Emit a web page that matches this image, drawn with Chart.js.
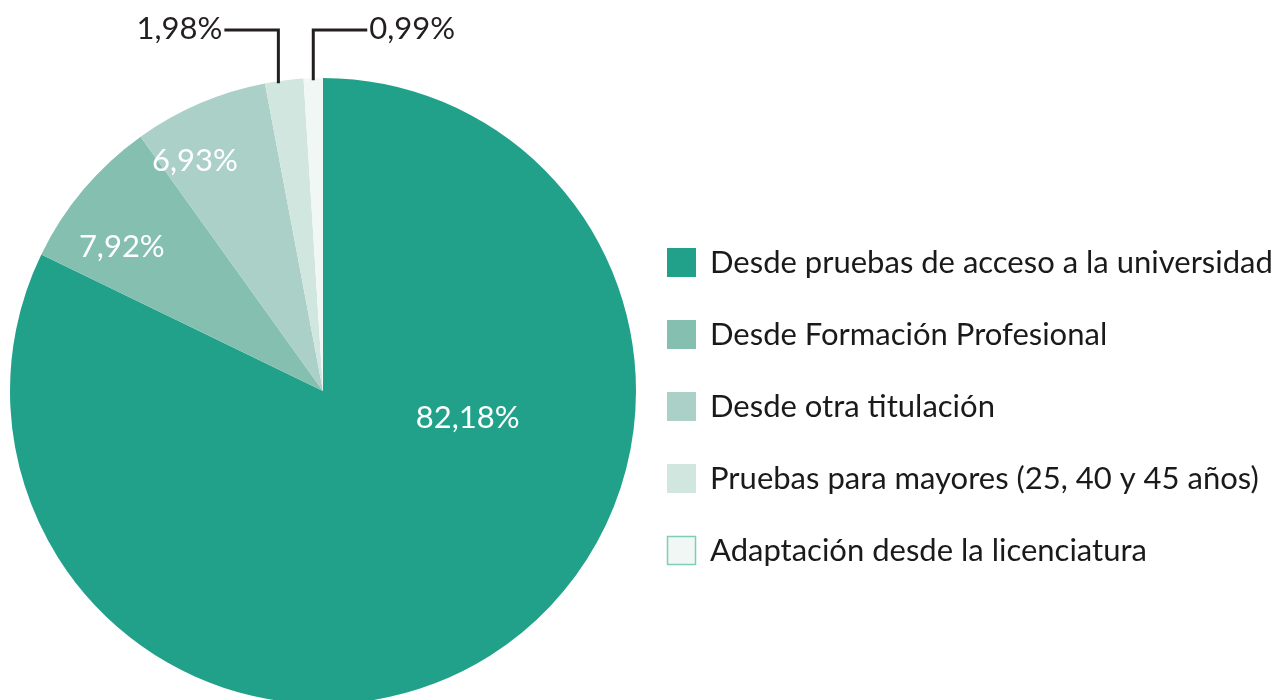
<!DOCTYPE html>
<html>
<head>
<meta charset="utf-8">
<script src="https://cdn.jsdelivr.net/npm/chart.js@4"></script>
<style>
  html, body { margin: 0; padding: 0; background: #fff; overflow: hidden; }
  #wrap { position: absolute; left: 0; top: 0; width: 1276px; height: 782px; }
</style>
</head>
<body>
<div id="wrap"><canvas id="accesoChart"></canvas></div>
<script>
const categories = [
    'Desde pruebas de acceso a la universidad',
    'Desde Formación Profesional',
    'Desde otra titulación',
    'Pruebas para mayores (25, 40 y 45 años)',
    'Adaptación desde la licenciatura'
];
const percentages = [82.18, 7.92, 6.93, 1.98, 0.99];
const colors = ['#22a18a', '#84bfb0', '#abd0c7', '#d2e6e0', '#f1f7f5'];

const FONT = '400 31px Lato, "Noto Sans", sans-serif';
const fmt = v => v.toFixed(2).replace('.', ',') + '%';

// etiquetas dentro (fracción del ángulo del sector, fracción del radio) o fuera con línea
const labelPlaces = [
    { inside: true, frac: 0.34, r: 0.47 },
    { inside: true, frac: 0.34, r: 0.79 },
    { inside: true, frac: 0.26, r: 0.84 },
    { inside: false, side: -1, frac: 0.35 },
    { inside: false, side: 1, frac: 0.5 }
];

const labelsPlugin = {
    id: 'pctLabels',
    afterDatasetsDraw(chart) {
        const ctx = chart.ctx;
        const arcs = chart.getDatasetMeta(0).data;
        ctx.save();
        ctx.font = FONT;
        arcs.forEach((arc, i) => {
            const p = labelPlaces[i];
            const a = arc.startAngle + (arc.endAngle - arc.startAngle) * p.frac;
            const text = fmt(percentages[i]);
            if (p.inside) {
                const r = arc.outerRadius * p.r;
                ctx.fillStyle = '#ffffff';
                ctx.textAlign = 'center';
                ctx.textBaseline = 'middle';
                ctx.fillText(text, arc.x + Math.cos(a) * r, arc.y + Math.sin(a) * r);
            } else {
                const ex = arc.x + Math.cos(a) * arc.outerRadius;
                const ey = arc.y + Math.sin(a) * arc.outerRadius;
                const ly = 30;
                const hx = ex + p.side * 54;
                ctx.strokeStyle = '#231f20';
                ctx.lineWidth = 3;
                ctx.beginPath();
                ctx.moveTo(ex, ey + 2);
                ctx.lineTo(ex, ly);
                ctx.lineTo(hx, ly);
                ctx.stroke();
                ctx.fillStyle = '#231f20';
                ctx.textBaseline = 'middle';
                ctx.textAlign = p.side < 0 ? 'right' : 'left';
                ctx.fillText(text, hx + p.side * 2, ly - 1);
            }
        });
        ctx.restore();
    }
};

const legendPlugin = {
    id: 'sideLegend',
    afterDraw(chart) {
        const ctx = chart.ctx;
        ctx.save();
        ctx.font = FONT;
        ctx.textBaseline = 'middle';
        ctx.textAlign = 'left';
        categories.forEach((c, i) => {
            const y = 262 + i * 72;
            ctx.fillStyle = colors[i];
            ctx.fillRect(667, y - 14, 29, 29);
            if (i === categories.length - 1) {
                ctx.strokeStyle = '#7fcdb8';
                ctx.lineWidth = 1.5;
                ctx.strokeRect(667.5, y - 13.5, 28, 28);
            }
            ctx.fillStyle = '#1a1a1a';
            ctx.fillText(c, 710, y + 1);
        });
        ctx.restore();
    }
};

const config = {
    type: 'pie',
    data: {
        labels: categories,
        datasets: [{
            data: percentages,
            backgroundColor: colors,
            borderWidth: 0
        }]
    },
    options: {
        responsive: true,
        maintainAspectRatio: false,
        animation: false,
        layout: { padding: { top: 78, bottom: 78, left: 10, right: 640 } },
        plugins: {
            legend: { display: false },
            tooltip: { enabled: false }
        }
    },
    plugins: [labelsPlugin, legendPlugin]
};

const ctx = document.getElementById('accesoChart').getContext('2d');
new Chart(ctx, config);
</script>
</body>
</html>
